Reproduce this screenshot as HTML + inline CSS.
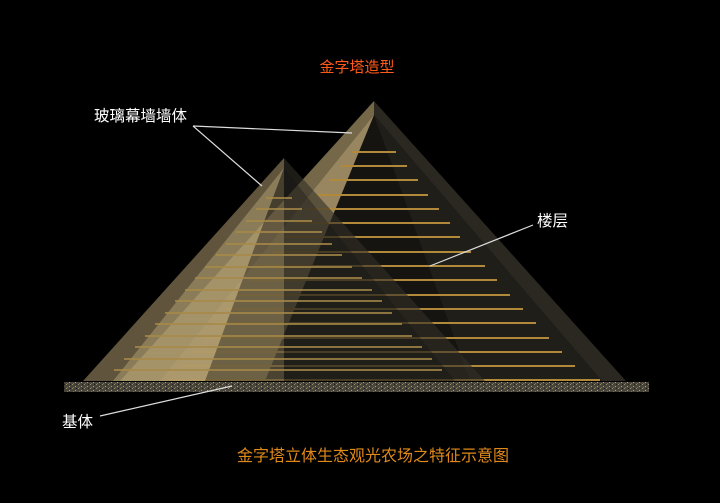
<!DOCTYPE html>
<html><head><meta charset="utf-8"><style>
html,body{margin:0;padding:0;background:#000;}
body{width:720px;height:498px;overflow:hidden;}
svg text{font-family:"Liberation Sans","Noto Sans CJK SC",sans-serif;}
</style></head><body>
<svg width="720" height="498" viewBox="0 0 720 498" xmlns="http://www.w3.org/2000/svg">
<defs>
<pattern id="nz" width="6" height="4" patternUnits="userSpaceOnUse">
<rect width="6" height="4" fill="#49443a"/>
<rect x="0" y="0" width="1" height="1" fill="#9a8d6c"/>
<rect x="3" y="2" width="1" height="1" fill="#b0a080"/>
<rect x="4" y="0" width="1" height="1" fill="#222"/>
<rect x="1" y="3" width="1" height="1" fill="#7d7359"/>
</pattern>
</defs>
<rect width="720" height="498" fill="#000"/>
<!-- big pyramid -->
<polygon points="374,101 120,381 374,381" fill="#756849"/>
<polygon points="374,101 374,381 626,381" fill="#2b2822"/>
<polygon points="374,115 160,381 265,381" fill="#978660"/>
<polygon points="374,115 265,381 602,381" fill="#151411"/>
<polygon points="374,115 470,381 602,381" fill="#201e19"/>
<g stroke="#b08a3a" stroke-width="2">
<line x1="352" y1="152" x2="396" y2="152"/><line x1="341" y1="166" x2="407" y2="166"/>
<line x1="329" y1="180" x2="418" y2="180"/><line x1="318" y1="195" x2="428" y2="195"/>
<line x1="306" y1="209" x2="439" y2="209"/><line x1="295" y1="223" x2="450" y2="223"/>
<line x1="283" y1="237" x2="460" y2="237"/><line x1="272" y1="252" x2="471" y2="252"/>
<line x1="260" y1="266" x2="485" y2="266"/><line x1="249" y1="280" x2="497" y2="280"/>
<line x1="237" y1="295" x2="510" y2="295"/><line x1="226" y1="309" x2="523" y2="309"/>
<line x1="214" y1="323" x2="536" y2="323"/><line x1="203" y1="338" x2="549" y2="338"/>
<line x1="191" y1="352" x2="562" y2="352"/><line x1="180" y1="366" x2="575" y2="366"/>
<line x1="170" y1="380" x2="600" y2="380"/>
</g>
<!-- small pyramid -->
<polygon points="284,158 83,381 284,381" fill="rgba(160,142,100,0.6)"/>
<polygon points="284,158 284,381 485,381" fill="rgba(50,47,38,0.6)"/>
<polygon points="284,168 113,381 205,381" fill="rgba(190,170,125,0.45)"/>
<polygon points="284,168 205,381 455,381" fill="rgba(20,19,16,0.35)"/>
<g stroke="#a88a48" stroke-width="2" opacity="0.8">
<line x1="266" y1="198" x2="292" y2="198"/><line x1="256" y1="209" x2="302" y2="209"/>
<line x1="246" y1="221" x2="312" y2="221"/><line x1="236" y1="232" x2="322" y2="232"/>
<line x1="226" y1="244" x2="332" y2="244"/><line x1="216" y1="255" x2="342" y2="255"/>
<line x1="205" y1="267" x2="352" y2="267"/><line x1="195" y1="278" x2="362" y2="278"/>
<line x1="185" y1="290" x2="372" y2="290"/><line x1="175" y1="301" x2="382" y2="301"/>
<line x1="165" y1="313" x2="392" y2="313"/><line x1="155" y1="324" x2="402" y2="324"/>
<line x1="145" y1="336" x2="412" y2="336"/><line x1="135" y1="347" x2="422" y2="347"/>
<line x1="124" y1="359" x2="432" y2="359"/><line x1="114" y1="370" x2="442" y2="370"/>
</g>
<!-- base -->
<rect x="64" y="382" width="585" height="10" fill="url(#nz)"/>
<!-- leaders -->
<g stroke="#ddd" stroke-width="1.2" fill="none">
<line x1="193" y1="126" x2="352" y2="133"/>
<line x1="193" y1="126" x2="262" y2="186"/>
<line x1="533" y1="225" x2="430" y2="266"/>
<line x1="100" y1="416" x2="232" y2="386"/>
</g>
<!-- text -->
<text x="357" y="72" fill="#ff5a1a" font-size="15" text-anchor="middle">金字塔造型</text>
<text x="94" y="121" fill="#fff" font-size="15.5">玻璃幕墙墙体</text>
<text x="537" y="226" fill="#fff" font-size="15.5">楼层</text>
<text x="62" y="427" fill="#fff" font-size="15.5">基体</text>
<text x="373" y="461" fill="#e08a1a" font-size="16" text-anchor="middle">金字塔立体生态观光农场之特征示意图</text>
</svg>
</body></html>
